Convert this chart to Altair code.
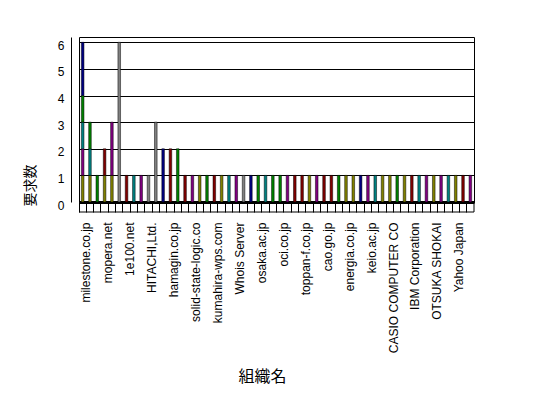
import altair as alt
import pandas as pd

# Organisation names (Excel only printed every third one)
shown_orgs = ["milestone.co.jp", "mopera.net", "1e100.net", "HITACHI,Ltd.", "hamagin.co.jp",
              "solid-state-logic.co", "kumahira-wps.com", "Whois Server", "osaka.ac.jp",
              "oci.co.jp", "toppan-f.co.jp", "cao.go.jp", "energia.co.jp", "keio.ac.jp",
              "CASIO COMPUTER CO", "IBM Corporation", "OTSUKA SHOKAI", "Yahoo Japan"]
n_orgs = 54
orgs = []
for i in range(n_orgs):
    orgs.append(shown_orgs[i // 3] if i % 3 == 0 else "_" + str(i))

series_names = ["系列1", "系列2", "系列3", "系列4", "系列5", "系列6", "系列7", "系列8"]
series_colors = ["#808000", "#800080", "#008080", "#008000", "#000080", "#800000", "#808080", "#000000"]

# stacked segments: org index, series index, value
seg_org = [0, 0, 0, 0, 0,
           1, 1, 1,
           2, 3, 3, 4, 4, 5, 6, 7, 8, 9, 10, 11, 12, 13, 14, 15, 16, 17, 18, 19, 20,
           21, 22, 23, 24, 25, 26, 27, 28, 29, 30, 31, 32, 33, 34, 35, 36, 37, 38, 39,
           40, 41, 42, 43, 44, 45, 46, 47, 48, 49, 50, 51, 52, 53]
seg_series = [0, 1, 2, 3, 4,
              0, 2, 3,
              3, 0, 5, 0, 1, 6, 5, 2, 1, 6, 6, 4, 5, 3, 5, 1, 0, 3, 5, 0, 2,
              1, 6, 4, 3, 2, 3, 3, 1, 5, 5, 0, 1, 5, 5, 3, 0, 0, 4, 1,
              2, 0, 0, 3, 0, 5, 2, 1, 0, 1, 2, 0, 5, 1]
seg_value = [1, 1, 1, 1, 2,
             1, 1, 1,
             1, 1, 1, 1, 2, 6, 1, 1, 1, 1, 3, 2, 2, 2, 1, 1, 1, 1, 1, 1, 1,
             1, 1, 1, 1, 1, 1, 1, 1, 1, 1, 1, 1, 1, 1, 1, 1, 1, 1, 1,
             1, 1, 1, 1, 1, 1, 1, 1, 1, 1, 1, 1, 1, 1]

y_ticks = [0, 1, 2, 3, 4, 5, 6]

df = pd.DataFrame({
    "org": [orgs[i] for i in seg_org],
    "series": [series_names[s] for s in seg_series],
    "sidx": seg_series,
    "value": seg_value,
})

W, H = 395, 165
band = W / n_orgs

bars = alt.Chart(df).mark_bar(size=2.6, stroke="black", strokeWidth=0.5).encode(
    x=alt.X("org:N", sort=orgs,
            scale=alt.Scale(domain=orgs, paddingInner=0, paddingOuter=0),
            axis=alt.Axis(
                title="組織名", titleFont="Noto Sans CJK JP", titleFontSize=16,
                titleFontWeight="normal", titleColor="black",
                titleX=183, titleY=174, titleAlign="center", titleBaseline="middle",
                labelAngle=270, labelAlign="right", labelBaseline="middle",
                labelExpr="indexof(datum.value, '_') == 0 ? '' : datum.value",
                labelFont="Liberation Sans", labelFontSize=12, labelColor="black",
                labelPadding=10, labelOffset=band / 2, labelOverlap=False, labelBound=False,
                ticks=True, tickSize=10, tickColor="black", tickWidth=1, bandPosition=0,
                domain=True, domainColor="black", domainWidth=3, grid=False)),
    y=alt.Y("value:Q", stack="zero",
            scale=alt.Scale(domain=[0, 6.2], nice=False, zero=True),
            axis=alt.Axis(
                values=y_ticks, title="要求数", titleFont="Noto Sans CJK JP",
                titleFontSize=14, titleFontWeight="normal", titleColor="black",
                titleAngle=270, titleX=-41, titleY=148, titleAlign="center",
                titleBaseline="middle",
                labelFont="Liberation Sans", labelFontSize=12, labelColor="black",
                labelPadding=7, labelOffset=3, ticks=False, offset=8,
                domain=True, domainColor="black", domainWidth=1,
                grid=True, gridColor="black", gridOpacity=1, gridWidth=1)),
    color=alt.Color("series:N", scale=alt.Scale(domain=series_names, range=series_colors),
                    legend=None),
    order=alt.Order("sidx:Q"),
)

frame_df = pd.DataFrame({"k": [0]})
floor_line = alt.Chart(frame_df).mark_rule(color="black", strokeWidth=1).encode(
    x=alt.value(0), x2=alt.value(W), y=alt.value(H + 10))
right_edge = alt.Chart(frame_df).mark_rule(color="black", strokeWidth=1).encode(
    x=alt.value(W), y=alt.value(H), y2=alt.value(H + 10))

chart = alt.layer(bars, floor_line, right_edge).properties(
    width=W, height=H,
    autosize=alt.AutoSizeParams(type="none"),
    padding={"left": 71, "top": 29, "right": 40, "bottom": 188},
    background="white",
).configure_view(stroke="black", strokeWidth=1)

chart.save("out.html", embed_options={"renderer": "svg", "actions": False})
